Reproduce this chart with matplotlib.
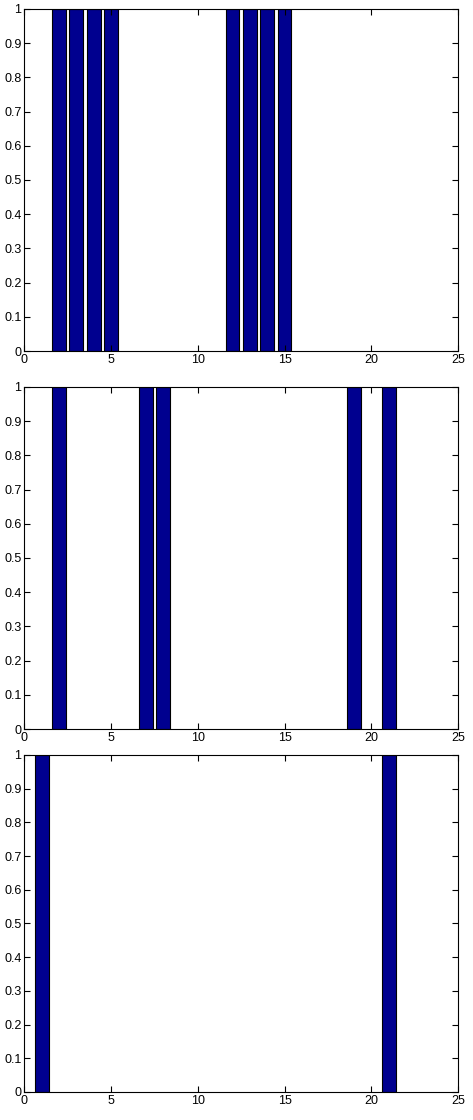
import numpy
import matplotlib
matplotlib.use('Agg')
import matplotlib.pyplot as plt

plt.rcParams['font.family'] = ['Liberation Sans', 'DejaVu Sans']

# bar positions (all height 1) for the three panels
x_top = [2, 3, 4, 5, 12, 13, 14, 15]
x_mid = [2, 7, 8, 19, 21]
x_bot = [1, 21]
h_top = [1, 1, 1, 1, 1, 1, 1, 1]
h_mid = [1, 1, 1, 1, 1]
h_bot = [1, 1]

panels = [(x_top, h_top), (x_mid, h_mid), (x_bot, h_bot)]
boxes = [[0.0514, 0.6866, 0.917, 0.3054],
         [0.0514, 0.3491, 0.917, 0.3054],
         [0.0514, 0.0250, 0.917, 0.3009]]

fig = plt.figure(figsize=(4.73, 11.2), dpi=100)
for (xs, hs), box in zip(panels, boxes):
    ax = fig.add_axes(box)
    ax.bar(xs, hs, width=0.8, color='#00008F', edgecolor='black', linewidth=0.8)
    ax.set_xlim(0, 25)
    ax.set_ylim(0, 1)
    ax.set_xticks(numpy.arange(0, 26, 5))
    ax.set_yticks(numpy.arange(0, 1.01, 0.1))
    ax.set_yticklabels(['0'] + ['%.1f' % v for v in numpy.arange(0.1, 0.95, 0.1)] + ['1'])
    ax.tick_params(direction='in', top=True, right=True, labelsize=9, length=4, width=0.8, pad=2)
    for s in ax.spines.values():
        s.set_linewidth(0.8)

fig.savefig('out.png', dpi=100)
